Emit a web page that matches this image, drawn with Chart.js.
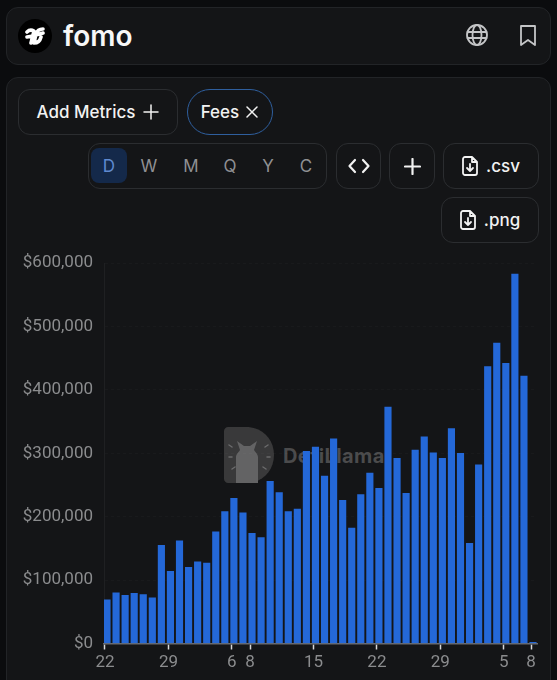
<!DOCTYPE html>
<html>
<head>
<meta charset="utf-8">
<style>
  html, body { margin: 0; padding: 0; width: 557px; height: 680px; overflow: hidden; background: #0b0c0e; font-family: Inter, sans-serif; color: #f2f2f2; }
  .card { position: absolute; box-sizing: border-box; background: #141517; border: 1px solid #222427; border-radius: 12px; }
  .btn { position: absolute; box-sizing: border-box; border: 1px solid #2b2d30; border-radius: 12px; display: flex; align-items: center; justify-content: center; font-size: 17px; font-weight: 500; gap: 8px; }
  .range { position: absolute; top: 156px; width: 36px; text-align: center; font-size: 17px; color: #8f9093; line-height: 20px; }
  .abs { position: absolute; }
  svg { display: block; fill: none; stroke: currentColor; stroke-width: 1.8; stroke-linecap: round; stroke-linejoin: round; }
  #chartWrap { position: absolute; left: 0; top: 242px; width: 557px; height: 438px; }
</style>
</head>
<body>
<div class="card" style="left:6px;top:7px;width:545px;height:58px"></div>
<div class="abs" style="left:18px;top:19px;width:34px;height:34px;border-radius:50%;background:#000"></div>
<svg class="abs" style="left:25px;top:26px;color:#fff;stroke-width:3.6" width="20" height="20" viewBox="0 0 20 20"><path d="M2 6 C4 4 7 4 9 5 L6 17 M2 11 L8 10 M18 3 C15 3 12 5 11 8 L9 17 C12 17 15 15 16 11 M11 9 L18 7"/></svg>
<div class="abs" style="left:63px;top:17px;font-size:28px;font-weight:600;line-height:38px;color:#f7f7f7">fomo</div>
<svg class="abs" style="left:466px;top:24px;color:#c4c5c7" width="22" height="22" viewBox="0 0 22 22"><circle cx="11" cy="11" r="10"/><ellipse cx="11" cy="11" rx="4.5" ry="10"/><path d="M1.5 8h19M1.5 14h19"/></svg>
<svg class="abs" style="left:520px;top:25px;color:#c4c5c7" width="16" height="21" viewBox="0 0 16 21"><path d="M1 1h14v19l-7-5-7 5z"/></svg>

<div class="card" style="left:6px;top:77px;width:545px;height:620px"></div>
<div class="btn" style="left:18px;top:89px;width:160px;height:46px;">Add Metrics
  <svg width="16" height="16" viewBox="0 0 16 16" style="stroke-width:1.5"><path d="M8 1v14M1 8h14"/></svg></div>
<div class="btn" style="left:187px;top:89px;width:86px;height:46px;border-radius:23px;border-color:#2f5f9e;gap:6px">Fees
  <svg width="14" height="14" viewBox="0 0 14 14" style="stroke-width:1.5"><path d="M2 2l10 10M12 2L2 12"/></svg></div>

<div class="btn" style="left:88px;top:143px;width:239px;height:46px"></div>
<div class="abs" style="left:91px;top:148px;width:36px;height:35px;border-radius:8px;background:#14294a"></div>
<div class="range" style="left:91px;color:#5f8ad0">D</div>
<div class="range" style="left:131px">W</div>
<div class="range" style="left:173px">M</div>
<div class="range" style="left:212px">Q</div>
<div class="range" style="left:250px">Y</div>
<div class="range" style="left:288px">C</div>

<div class="btn" style="left:336px;top:143px;width:45px;height:46px">
  <svg width="22" height="16" viewBox="0 0 22 16" style="stroke-width:2.2"><path d="M7 2L1.5 8 7 14M15 2l5.500 6L15 14"/></svg></div>
<div class="btn" style="left:389px;top:143px;width:46px;height:46px">
  <svg width="17" height="17" viewBox="0 0 17 17" style="stroke-width:2.2"><path d="M8.500 1v15M1 8.500h15"/></svg></div>
<div class="btn" style="left:443px;top:143px;width:96px;height:46px">
  <svg width="16" height="20" viewBox="0 0 16 20"><path d="M1 3a2 2 0 0 1 2-2h7l5 5v11a2 2 0 0 1-2 2H3a2 2 0 0 1-2-2zM10 1v5h5M8 8v7M5 12l3 3 3-3"/></svg>.csv</div>
<div class="btn" style="left:441px;top:197px;width:98px;height:46px">
  <svg width="16" height="20" viewBox="0 0 16 20"><path d="M1 3a2 2 0 0 1 2-2h7l5 5v11a2 2 0 0 1-2 2H3a2 2 0 0 1-2-2zM10 1v5h5M8 8v7M5 12l3 3 3-3"/></svg>.png</div>

<!-- watermark sits under the canvas, bars cover it -->
<svg class="abs" style="left:224px;top:427px" width="50" height="56" viewBox="0 0 50 56">
  <path d="M4 0h18c16 0 28 12 28 28s-12 28-28 28H4c-2 0-4-2-4-4V4c0-2 2-4 4-4z" fill="#39393a" stroke="none"/>
  <path d="M12 56V30c0-3 3-5 4-7l-3-9 7 5h6l7-5-3 9c1 2 4 4 4 7v26z" fill="#636364" stroke="none"/>
  <path d="M5 18l3 2M5 30h3M8 42l3-2M44 18l-3 2M46 30h-3M42 42l-3-2" stroke="#6a6a6b" stroke-width="1.500"/>
</svg>
<div class="abs" style="left:283px;top:444px;font-size:20px;font-weight:700;line-height:24px;color:#4b4b4c;letter-spacing:0.4px">DefiLlama</div>

<div id="chartWrap"><canvas id="feesChart"></canvas></div>

<script src="https://cdn.jsdelivr.net/npm/chart.js@4"></script>
<script>
// Day of month for each bar (Sep 22 -> Nov 8)
const days = [22,23,24,25,26,27,28,29,30,1,2,3,4,5,6,7,8,9,10,11,12,13,14,15,16,17,18,19,20,21,22,23,24,25,26,27,28,29,30,31,1,2,3,4,5,6,7,8];

// Daily fees in USD
const fees = [
    69000, 80000, 76000, 79000, 77000, 72000, 155000, 114000, 162000, 120000,
    129000, 127000, 176000, 208000, 229000, 206000, 174000, 167000, 256000, 238000,
    208000, 212000, 303000, 310000, 264000, 323000, 226000, 182000, 235000, 269000,
    245000, 373000, 292000, 237000, 305000, 326000, 301000, 292000, 339000, 300000,
    158000, 282000, 437000, 474000, 442000, 583000, 422000, 2000
];

// Which bars get an x axis tick
const tickIndexes = [0, 7, 14, 16, 23, 30, 37, 44, 47];

const yTicks = [0, 100000, 200000, 300000, 400000, 500000, 600000];

const colors = {
    bar: '#2468d8',
    tickText: '#8b8c8e',
    tickMark: '#d8d8d8',
    axisLine: '#6a6b6e',
    gridLine: 'rgba(255, 255, 255, 0.025)'
};

// Bars are drawn a little right of their tick, like the original
const barNudge = 0.22;

const chartData = fees.map((v, i) => ({ x: i + barNudge, y: v }));

new Chart(document.getElementById('feesChart'), {
    type: 'bar',
    data: {
        datasets: [{
            label: 'Fees',
            data: chartData,
            backgroundColor: colors.bar,
            barThickness: 6.5
        }]
    },
    options: {
        responsive: true,
        maintainAspectRatio: false,
        animation: false,
        layout: { padding: { top: 4, right: 20, left: 0, bottom: 0 } },
        plugins: { legend: { display: false }, tooltip: { enabled: false } },
        scales: {
            x: {
                type: 'linear',
                offset: false,
                min: -0.11,
                max: 47.66,
                afterBuildTicks: (scale) => { scale.ticks = tickIndexes.map(v => ({ value: v })); },
                afterFit: (scale) => { scale.height = 36.5; },
                grid: { display: true, offset: false, drawOnChartArea: false, drawTicks: true, tickLength: 6, tickColor: colors.tickMark, tickWidth: 1.5 },
                border: { color: colors.axisLine, width: 1.5 },
                ticks: {
                    autoSkip: false,
                    maxRotation: 0,
                    padding: 3,
                    color: colors.tickText,
                    font: { family: 'Roboto', size: 17 },
                    callback: (v) => days[v]
                }
            },
            y: {
                min: 0,
                max: 600000,
                afterBuildTicks: (scale) => { scale.ticks = yTicks.map(v => ({ value: v })); },
                afterFit: (scale) => { scale.width = 104; },
                grid: { color: colors.gridLine, drawTicks: false },
                border: { color: 'rgba(255, 255, 255, 0.05)', dash: [3, 3] },
                ticks: {
                    padding: 11,
                    color: colors.tickText,
                    font: { family: 'Roboto', size: 17 },
                    callback: (v) => '$' + v.toLocaleString('en-US')
                }
            }
        }
    }
});
</script>
</body>
</html>
